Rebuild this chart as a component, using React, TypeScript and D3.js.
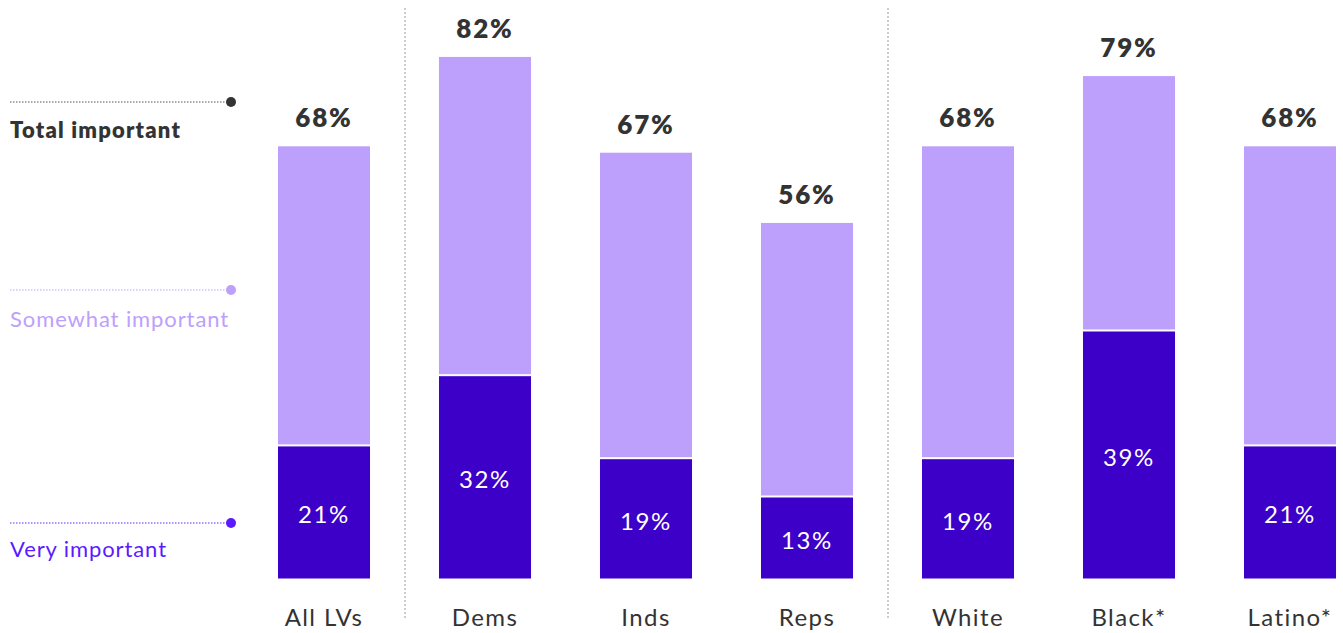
import React from "react";
import * as d3 from "d3";

const categories = ["All LVs", "Dems", "Inds", "Reps", "White", "Black*", "Latino*"];
const totalImportant = [68, 82, 67, 56, 68, 79, 68];
const veryImportant = [21, 32, 19, 13, 19, 39, 21];
const separatorsAfter = ["All LVs", "Reps"];

const W = 1343;
const H = 633;
const LIGHT = "#BDA0FC";
const DARK = "#3D00C8";
const FONT = "Lato, 'Open Sans', sans-serif";

export default function App() {
  const x = d3
    .scaleBand<string>()
    .domain(categories)
    .range([243.5, 243.5 + 161 * 7])
    .paddingInner(0.416)
    .paddingOuter(0.208);
  const y = d3.scaleLinear().domain([0, 100]).range([579.5, 579.5 - 638.5]);
  const bw = x.bandwidth();
  const step = x.step();

  return (
    <svg width={W} height={H} style={{ position: "absolute", left: 0, top: 0, background: "#fff" }} fontFamily={FONT}>
      {separatorsAfter.map((c) => {
        const sx = (x(c) as number) + bw + (step - bw) / 2 + 0.5;
        return <line key={c} x1={sx} x2={sx} y1={8} y2={620} stroke="#999" strokeWidth={1} strokeDasharray="2,2" />;
      })}

      <line x1={10} x2={231} y1={102} y2={102} stroke="#555" strokeDasharray="1.5,1.5" strokeWidth={1} />
      <circle cx={231} cy={102} r={5} fill="#333" />
      <text x={10} y={138} fontSize={22} fontWeight={800} fill="#333" letterSpacing={1.2}>Total important</text>

      <line x1={10} x2={231} y1={290} y2={290} stroke={LIGHT} strokeDasharray="1.5,1.5" strokeWidth={1} />
      <circle cx={231} cy={290} r={5} fill={LIGHT} />
      <text x={10} y={327} fontSize={22} fill={LIGHT} letterSpacing={0.9}>Somewhat important</text>

      <line x1={10} x2={231} y1={523} y2={523} stroke="#6a2cff" strokeDasharray="1.5,1.5" strokeWidth={1} />
      <circle cx={231} cy={523} r={5} fill="#5B1AFF" />
      <text x={10} y={557} fontSize={22} fill="#5B1AFF" letterSpacing={0.9}>Very important</text>

      {categories.map((c, i) => {
        const bx = x(c) as number;
        const cx = bx + bw / 2;
        const tot = totalImportant[i];
        const very = veryImportant[i];
        return (
          <g key={c}>
            <rect x={bx} y={y(tot)} width={bw} height={y(0) - y(tot)} fill={LIGHT} stroke="#fff" strokeWidth={2} />
            <rect x={bx} y={y(very)} width={bw} height={y(0) - y(very)} fill={DARK} stroke="#fff" strokeWidth={2} />
            <text x={cx} y={y(tot) - 18} textAnchor="middle" fontSize={26} fontWeight={800} fill="#333" letterSpacing={1.8}>
              {tot}%
            </text>
            <text x={cx} y={(y(very) + y(0)) / 2 + 11} textAnchor="middle" fontSize={24} fontWeight={400} fill="#fff" letterSpacing={1.6}>
              {very}%
            </text>
            <text x={cx} y={626} textAnchor="middle" fontSize={24} fontWeight={400} fill="#333" letterSpacing={1.4}>
              {c}
            </text>
          </g>
        );
      })}
    </svg>
  );
}
